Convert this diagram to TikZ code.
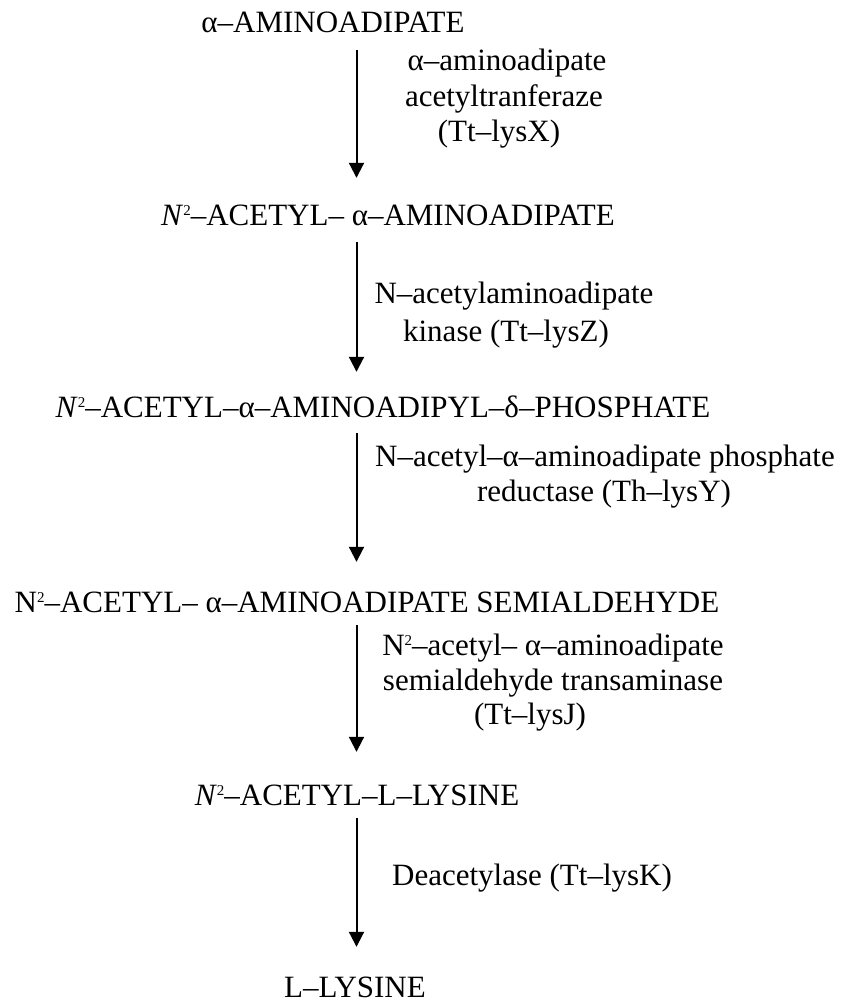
\documentclass[tikz,border=0pt]{standalone}
\usepackage{fontspec}
\setmainfont{Liberation Serif}
\usetikzlibrary{arrows.meta}
\newcommand\suptwo{\raisebox{10pt}{\fontsize{15}{15}\selectfont 2}}
\begin{document}
\begin{tikzpicture}[x=1pt,y=-1pt,
  every node/.style={font=\fontsize{31}{36}\selectfont},
  compound/.style={inner sep=0pt, text height=21pt, text depth=0pt, anchor=base},
  enzyme/.style={inner sep=0pt, anchor=base},
  rxn/.style={line width=2pt, -{Triangle[width=15pt,length=15pt]}}]
\useasboundingbox (0,0) rectangle (849,1002);
\coordinate (ax) at (356.5,0);
% compounds
\node[compound] (n1) at (333,32) {α–AMINOADIPATE};
\node[compound] (n2) at (388,225) {\textit{N}\suptwo–ACETYL– α–AMINOADIPATE};
\node[compound] (n3) at (383,417) {\textit{N}\suptwo–ACETYL–α–AMINOADIPYL–δ–PHOSPHATE};
\node[compound] (n4) at (367,612) {N\suptwo–ACETYL– α–AMINOADIPATE SEMIALDEHYDE};
\node[compound] (n5) at (357,805) {\textit{N}\suptwo–ACETYL–L–LYSINE};
\node[compound] (n6) at (355,997) {L–LYSINE};
% reactions
\draw[rxn, shorten <=18pt, shorten >=26pt] (n1.south -| ax) -- (n2.north -| ax);
\draw[rxn, shorten <=17pt, shorten >=24pt] (n2.south -| ax) -- (n3.north -| ax);
\draw[rxn, shorten <=16pt, shorten >=29pt] (n3.south -| ax) -- (n4.north -| ax);
\draw[rxn, shorten <=13pt, shorten >=32pt] (n4.south -| ax) -- (n5.north -| ax);
\draw[rxn, shorten <=13pt, shorten >=29pt] (n5.south -| ax) -- (n6.north -| ax);
% enzymes
\node[enzyme] (e1a) at (507,70) {α–aminoadipate};
\node[enzyme] (e1b) at (504,106) {acetyltranferaze};
\node[enzyme] (e1c) at (499,141) {(Tt–lysX)};
\node[enzyme] (e2a) at (514,303) {N–acetylaminoadipate};
\node[enzyme] (e2b) at (506,341) {kinase (Tt–lysZ)};
\node[enzyme] (e3a) at (605,466) {N–acetyl–α–aminoadipate phosphate};
\node[enzyme] (e3b) at (604,501) {reductase (Th–lysY)};
\node[enzyme] (e4a) at (553,655) {N\suptwo–acetyl– α–aminoadipate};
\node[enzyme] (e4b) at (553,690) {semialdehyde transaminase};
\node[enzyme] (e4c) at (530,724) {(Tt–lysJ)};
\node[enzyme] (e5) at (532,885) {Deacetylase (Tt–lysK)};
\end{tikzpicture}
\end{document}
